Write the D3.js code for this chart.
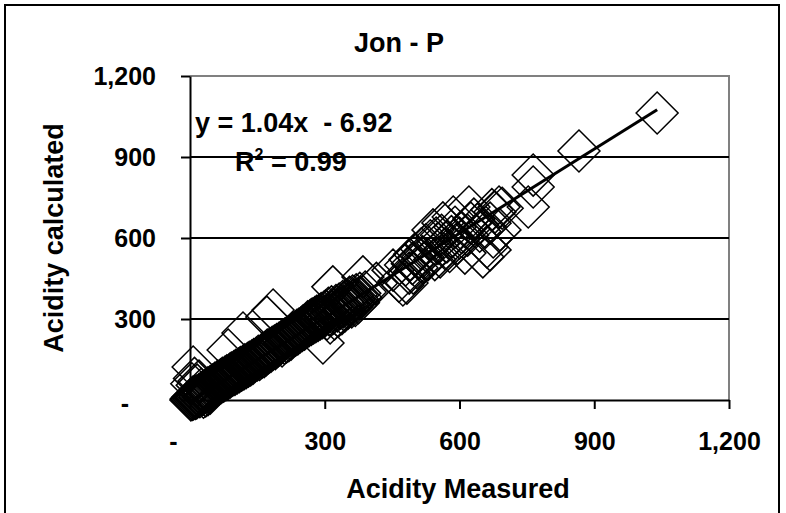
<!DOCTYPE html>
<html>
<head>
<meta charset="utf-8">
<script src="https://cdn.jsdelivr.net/npm/d3@7"></script>
<style>
  body { margin: 0; background: #fff; }
  text { font-family: "Liberation Sans", Arial, sans-serif; font-weight: bold; fill: #000; }
</style>
</head>
<body>
<svg width="786" height="513"></svg>
<script>
// measured vs calculated acidity
var measured = [
  2,3,5,6,8,10,12,14,15,18,20,22,24,26,28,30,33,35,38,40,42,45,48,50,52,55,58,60,7,4,10,16,20,25,30,35,40,45,
  62,65,68,70,72,75,78,80,82,85,85,88,90,92,95,98,100,102,105,108,110,112,115,118,118,120,122,125,128,130,
  132,135,138,140,142,145,148,150,152,155,158,160,162,165,168,170,171,172,175,178,180,183,185,185,188,190,193,195,198,200,
  202,205,208,210,212,215,218,220,222,225,228,230,232,235,238,240,242,245,248,250,252,255,258,260,262,265,268,270,272,275,
  278,280,282,285,288,290,292,295,296,298,300,
  302,305,308,310,312,315,318,318,320,322,325,328,330,332,335,338,340,342,345,348,350,352,355,358,360,362,365,368,370,372,
  375,378,380,385,390,415,
  452,465,474,480,483,488,490,495,497,500,505,510,515,518,522,525,530,535,541,545,
  548,552,557,560,563,568,572,578,582,586,590,595,600,605,612,618,621,625,632,640,
  645,652,658,661,668,672,675,679,690,695,
  668,688,753,764,764,866,1040
];
var calculated = [
  0,5,2,10,4,12,6,15,8,14,20,12,25,18,30,22,28,38,30,45,35,50,40,55,46,62,50,58,122,60,80,55,70,40,10,15,20,25,
  70,60,75,65,80,70,85,75,90,185,80,95,85,100,92,105,95,110,100,115,105,120,110,248,125,115,130,120,135,125,
  140,130,145,135,150,145,155,148,162,150,165,158,172,160,178,168,307,185,175,190,180,195,333,188,200,190,205,198,210,205,
  215,200,222,210,228,215,232,220,238,225,245,235,250,240,258,245,262,252,268,258,275,262,280,270,290,275,295,280,300,285,
  305,290,310,295,315,300,320,305,211,325,310,
  330,300,340,315,285,345,419,320,335,300,350,330,310,355,340,320,365,345,330,370,355,340,380,360,345,385,370,350,390,375,
  360,395,380,456,400,432,
  481,440,426,500,433,470,520,505,470,540,490,525,560,530,510,575,520,590,630,520,
  600,580,530,610,656,560,585,550,605,678,640,580,600,620,544,610,715,655,670,650,
  625,530,640,567,655,705,604,696,630,710,
  556,715,715,789,833,922,1063
];
var xTicks = [0, 300, 600, 900, 1200];
var yTicks = [0, 300, 600, 900, 1200];
var slope = 1.04, intercept = -6.92, rSquared = 0.99;
var title = "Jon - P";
var xTitle = "Acidity Measured";
var yTitle = "Acidity calculated";

var data = measured.map(function(m, i) { return { x: m, y: calculated[i] }; });

var svg = d3.select("svg"),
  margin = { left: 190, top: 76, right: 57, bottom: 113 },
  width = 786 - margin.left - margin.right,
  height = 513 - margin.top - margin.bottom;

var fmt = function(d) { return d === 0 ? "-" : d3.format(",")(d); };

// outer chart border
svg.append("rect")
  .attr("x", 5).attr("y", 5).attr("width", 774).attr("height", 530)
  .attr("fill", "none").attr("stroke", "#000").attr("stroke-width", 2);

svg.append("text")
  .attr("x", 399).attr("y", 52)
  .attr("text-anchor", "middle")
  .style("font-size", "27px")
  .text(title);

var xScale = d3.scaleLinear().domain([0, 1200]).range([0, width]),
  yScale = d3.scaleLinear().domain([0, 1200]).range([height, 0]);

var g = svg.append("g")
  .attr("transform", "translate(" + margin.left + "," + margin.top + ")");

// plot area frame (grey top and right)
g.append("path")
  .attr("d", "M0,0H" + width + "V" + height)
  .attr("fill", "none").attr("stroke", "#808080").attr("stroke-width", 2);

// gridlines
g.selectAll(".grid")
  .data(yTicks.filter(function(d) { return d > 0 && d < 1200; }))
  .enter().append("line")
  .attr("class", "grid")
  .attr("x1", 0).attr("x2", width)
  .attr("y1", d => yScale(d)).attr("y2", d => yScale(d))
  .attr("stroke", "#000").attr("stroke-width", 2);

var xAxis = g.append("g")
  .attr("transform", "translate(0," + height + ")")
  .call(d3.axisBottom(xScale).tickValues(xTicks).tickFormat(fmt).tickSize(9).tickSizeOuter(0).tickPadding(23));

var yAxis = g.append("g")
  .call(d3.axisLeft(yScale).tickValues(yTicks).tickFormat(fmt).tickSize(9).tickSizeOuter(0).tickPadding(25));

[xAxis, yAxis].forEach(function(a) {
  a.select(".domain").attr("stroke", "#000").attr("stroke-width", 2);
  a.selectAll(".tick line").attr("stroke", "#000").attr("stroke-width", 2);
  a.selectAll(".tick text")
    .attr("fill", "#000")
    .style("font-size", "25px")
    .style("font-family", "'Liberation Sans', Arial, sans-serif")
    .style("font-weight", "bold");
});
xAxis.selectAll(".tick text").filter(d => d === 0).attr("dx", -17);
yAxis.selectAll(".tick text").filter(d => d === 0).attr("dx", -27).attr("dy", "0.45em");

// markers
var r = 21;
g.selectAll(".pt")
  .data(data)
  .enter().append("path")
  .attr("class", "pt")
  .attr("d", "M0," + (-r) + "L" + r + ",0L0," + r + "L" + (-r) + ",0Z")
  .attr("transform", d => "translate(" + xScale(d.x) + "," + yScale(d.y) + ")")
  .attr("fill", "none")
  .attr("stroke", "#000")
  .attr("stroke-width", 1.5);

// linear trendline
var xExt = d3.extent(measured);
g.append("line")
  .attr("x1", xScale(xExt[0])).attr("y1", yScale(slope * xExt[0] + intercept))
  .attr("x2", xScale(xExt[1])).attr("y2", yScale(slope * xExt[1] + intercept))
  .attr("stroke", "#000").attr("stroke-width", 3);

// equation labels
svg.append("text")
  .attr("x", 195).attr("y", 132)
  .style("font-size", "27px")
  .style("white-space", "pre")
  .attr("xml:space", "preserve")
  .text("y = " + slope.toFixed(2) + "x  - " + Math.abs(intercept).toFixed(2));

var r2 = svg.append("text")
  .attr("x", 235).attr("y", 171)
  .style("font-size", "27px");
r2.append("tspan").text("R");
r2.append("tspan").attr("dy", -11).style("font-size", "16px").text("2");
r2.append("tspan").attr("dy", 11).text(" = " + rSquared.toFixed(2));

// axis titles
svg.append("text")
  .attr("x", 458).attr("y", 498)
  .attr("text-anchor", "middle")
  .style("font-size", "27px")
  .text(xTitle);

svg.append("text")
  .attr("transform", "translate(63,238) rotate(-90)")
  .attr("text-anchor", "middle")
  .style("font-size", "27px")
  .text(yTitle);
</script>
</body>
</html>
